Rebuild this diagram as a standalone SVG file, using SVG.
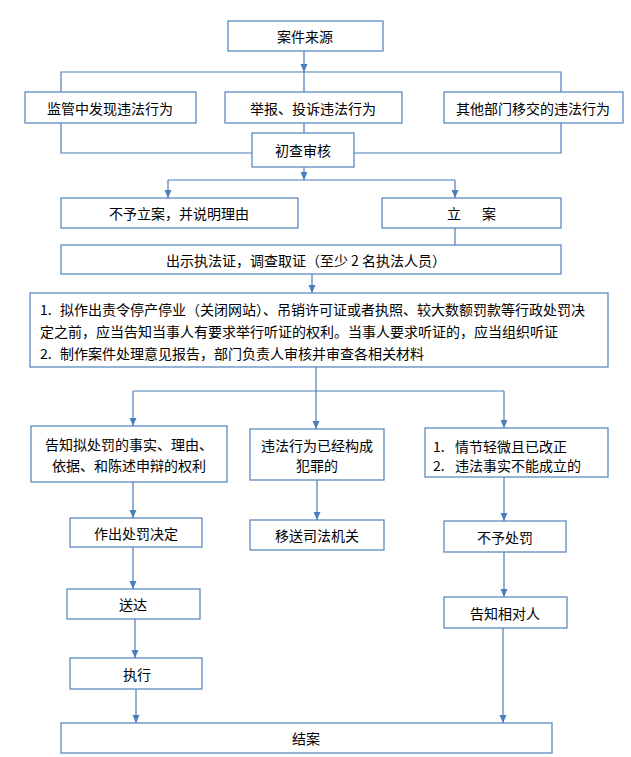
<svg xmlns="http://www.w3.org/2000/svg" width="631" height="757" viewBox="0 0 631 757">
<style>
.box{fill:#fff;stroke:#4F81BD;stroke-width:1.2}
.ln{fill:none;stroke:#4A7EBB;stroke-width:1.2}
.arr{marker-end:url(#ah)}
text{font-family:"Noto Sans CJK SC","Noto Sans CJK JP",sans-serif;font-size:14px;fill:#000;dominant-baseline:central}
.c{text-anchor:middle}
</style>
<defs>
<marker id="ah" markerUnits="userSpaceOnUse" markerWidth="8" markerHeight="8" viewBox="0 0 8 8" refX="8" refY="4" orient="auto">
<path d="M0,0.5 L8,4 L0,7.5 Z" fill="#4A7EBB"/>
</marker>
</defs>
<rect width="631" height="757" fill="#fff"/>
<g id="connectors">
<path class="ln arr" d="M304,51 V72"/>
<path class="ln" d="M61,92 V72 H561 V92 M304,72 V92"/>
<path class="ln" d="M61,123 V153 H252 M561,123 V153 H354 M304,123 V133"/>
<path class="ln arr" d="M304,167 V180"/>
<path class="ln" d="M168,180 H455"/>
<path class="ln arr" d="M168,180 V198"/>
<path class="ln arr" d="M455,180 V198"/>
<path class="ln" d="M455,228 V245"/>
<path class="ln arr" d="M312,274 V293"/>
<path class="ln arr" d="M316,367 V429"/>
<path class="ln" d="M133,391 H504"/>
<path class="ln arr" d="M133,391 V426"/>
<path class="ln arr" d="M504,391 V428"/>
<path class="ln arr" d="M133,482 V518"/>
<path class="ln arr" d="M317,480 V520"/>
<path class="ln arr" d="M504,477 V521"/>
<path class="ln arr" d="M133,547 V589"/>
<path class="ln arr" d="M504,552 V597"/>
<path class="ln arr" d="M135,619 V658"/>
<path class="ln arr" d="M136,689 V723"/>
<path class="ln arr" d="M503,628 V723"/>
</g>
<g id="n_source"><rect class="box" x="228" y="21" width="155" height="30"/><text class="c" x="305" y="36">案件来源</text></g>
<g id="n_supervise"><rect class="box" x="25" y="92" width="171" height="31"/><text class="c" x="110" y="107.5">监管中发现违法行为</text></g>
<g id="n_report"><rect class="box" x="225" y="92" width="177" height="31"/><text class="c" x="313" y="107.5">举报、投诉违法行为</text></g>
<g id="n_transfer"><rect class="box" x="444" y="92" width="179" height="31"/><text class="c" x="533" y="107.5">其他部门移交的违法行为</text></g>
<g id="n_review"><rect class="box" x="252" y="133" width="102" height="34"/><text class="c" x="303" y="150">初查审核</text></g>
<g id="n_noreg"><rect class="box" x="61" y="198" width="237" height="30"/><text class="c" x="179" y="213">不予立案，并说明理由</text></g>
<g id="n_reg"><rect class="box" x="382" y="198" width="179" height="30"/><text x="447" y="213">立</text><text x="482" y="213">案</text></g>
<g id="n_investigate"><rect class="box" x="61" y="245" width="500" height="29"/><text class="c" x="306" y="259.5">出示执法证，调查取证（至少 2 名执法人员）</text></g>
<g id="n_hearing"><rect class="box" x="30" y="293" width="578" height="74"/>
<text x="40" y="309">1.</text><text x="60" y="309">拟作出责令停产停业（关闭网站）、吊销许可证或者执照、较大数额罚款等行政处罚决</text>
<text x="40" y="331">定之前，应当告知当事人有要求举行听证的权利。当事人要求听证的，应当组织听证</text>
<text x="40" y="353">2.</text><text x="60" y="353">制作案件处理意见报告，部门负责人审核并审查各相关材料</text></g>
<g id="n_notify"><rect class="box" x="31" y="426" width="196" height="56"/><text class="c" x="129" y="444">告知拟处罚的事实、理由、</text><text class="c" x="129" y="465">依据、和陈述申辩的权利</text></g>
<g id="n_crime"><rect class="box" x="250" y="429" width="134" height="51"/><text class="c" x="317" y="445">违法行为已经构成</text><text class="c" x="317" y="465">犯罪的</text></g>
<g id="n_minor"><rect class="box" x="425" y="428" width="183" height="49"/><text x="433" y="446">1.</text><text x="455" y="446">情节轻微且已改正</text><text x="433" y="465">2.</text><text x="455" y="465">违法事实不能成立的</text></g>
<g id="n_decide"><rect class="box" x="70" y="518" width="132" height="29"/><text class="c" x="136" y="532.5">作出处罚决定</text></g>
<g id="n_judicial"><rect class="box" x="250" y="520" width="134" height="30"/><text class="c" x="317" y="535">移送司法机关</text></g>
<g id="n_nopunish"><rect class="box" x="444" y="521" width="122" height="31"/><text class="c" x="505" y="536.5">不予处罚</text></g>
<g id="n_deliver"><rect class="box" x="67" y="589" width="133" height="30"/><text class="c" x="133" y="604">送达</text></g>
<g id="n_tellparty"><rect class="box" x="444" y="597" width="123" height="31"/><text class="c" x="505" y="612.5">告知相对人</text></g>
<g id="n_execute"><rect class="box" x="70" y="658" width="132" height="31"/><text class="c" x="137" y="673.5">执行</text></g>
<g id="n_close"><rect class="box" x="61" y="723" width="491" height="30"/><text class="c" x="306" y="738">结案</text></g>
</svg>
